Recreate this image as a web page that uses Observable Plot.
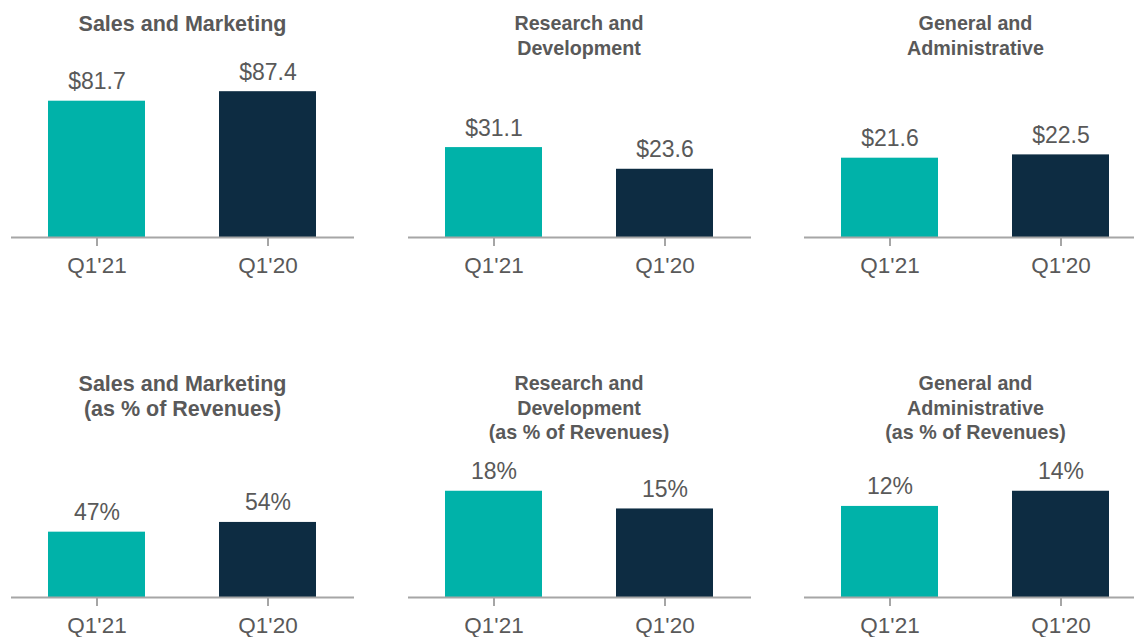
<!DOCTYPE html>
<html><head><meta charset="utf-8">
<script src="https://cdn.jsdelivr.net/npm/d3@7"></script>
<script src="https://cdn.jsdelivr.net/npm/@observablehq/plot@0.6"></script>
<style>
html,body{margin:0;padding:0;background:#fff;overflow:hidden;}
#root{position:relative;width:1134px;height:637px;overflow:hidden;font-family:"Liberation Sans",Arial,sans-serif;}
.title{position:absolute;text-align:center;font-weight:bold;color:#595959;white-space:pre-line;z-index:2;}
.panel{position:absolute;z-index:1;width:397px;}
.panel svg{max-width:none !important;}
</style></head><body><div id="root"></div>
<script>
// ---- data ----
const categories = ["Q1'21", "Q1'20"];
const titles = [
  "Sales and Marketing",
  "Research and\nDevelopment",
  "General and\nAdministrative",
  "Sales and Marketing\n(as % of Revenues)",
  "Research and\nDevelopment\n(as % of Revenues)",
  "General and\nAdministrative\n(as % of Revenues)"
];
const salesMarketingDollars = [81.7, 87.4];
const researchDevDollars = [31.1, 23.6];
const generalAdminDollars = [21.6, 22.5];
const salesMarketingPct = [47, 54];
const researchDevPct = [18, 15];
const generalAdminPct = [12, 14];

// ---- rendering ----
const fmtDollar = v => "$" + v.toFixed(1);
const fmtPct = v => v + "%";
const panels = [
  {title: titles[0], values: salesMarketingDollars, fmt: fmtDollar, yMax: 101.9},
  {title: titles[1], values: researchDevDollars, fmt: fmtDollar, yMax: 58.8},
  {title: titles[2], values: generalAdminDollars, fmt: fmtDollar, yMax: 46.3},
  {title: titles[3], values: salesMarketingPct, fmt: fmtPct, yMax: 122.3},
  {title: titles[4], values: researchDevPct, fmt: fmtPct, yMax: 28.8},
  {title: titles[5], values: generalAdminPct, fmt: fmtPct, yMax: 22.4}
];
const root = document.getElementById("root");
const panelW = 396.5;
panels.forEach((p, i) => {
  const col = i % 3, row = Math.floor(i / 3);
  const left = col * panelW;
  const data = categories.map((c, k) => ({period: c, value: p.values[k]}));
  const chart = Plot.plot({
    width: 397, height: 255,
    marginTop: 40, marginBottom: 45, marginLeft: 11, marginRight: 43,
    style: {fontFamily: '"Liberation Sans", Arial, sans-serif', fontSize: "23px", color: "#595959", background: "transparent", overflow: "visible", maxWidth: "none"},
    x: {domain: categories, paddingInner: 0.43, paddingOuter: 0.215, label: null},
    y: {domain: [0, p.yMax], axis: null},
    color: {domain: categories, range: ["#00b2a9", "#0d2c42"]},
    marks: [
      Plot.barY(data, {x: "period", y: "value", fill: "period"}),
      Plot.ruleY([0], {stroke: "#a6a6a6", strokeWidth: 2}),
      Plot.text(data, {x: "period", y: "value", text: d => p.fmt(d.value), lineAnchor: "bottom", dy: -12, fontSize: 23, fill: "#595959"}),
      Plot.axisX({tickSize: 9, tickPadding: 11, stroke: "#a6a6a6", strokeWidth: 2, fill: "#595959", fontSize: 22.5, label: null})
    ]
  });
  const wrap = document.createElement("div");
  wrap.className = "panel";
  wrap.style.left = left + "px";
  wrap.style.top = (row === 0 ? 27 : 387) + "px";
  wrap.appendChild(chart);
  root.appendChild(wrap);

  const t = document.createElement("div");
  t.className = "title";
  t.textContent = p.title;
  const big = col === 0;
  t.style.fontSize = big ? "21.5px" : "19.7px";
  t.style.lineHeight = big ? "25px" : "24.5px";
  t.style.left = (left + 11) + "px";
  t.style.width = "343px";
  t.style.top = ((row === 0 ? 0 : 360) + (big ? 12 : 11)) + "px";
  root.appendChild(t);
});
</script>
</body></html>
